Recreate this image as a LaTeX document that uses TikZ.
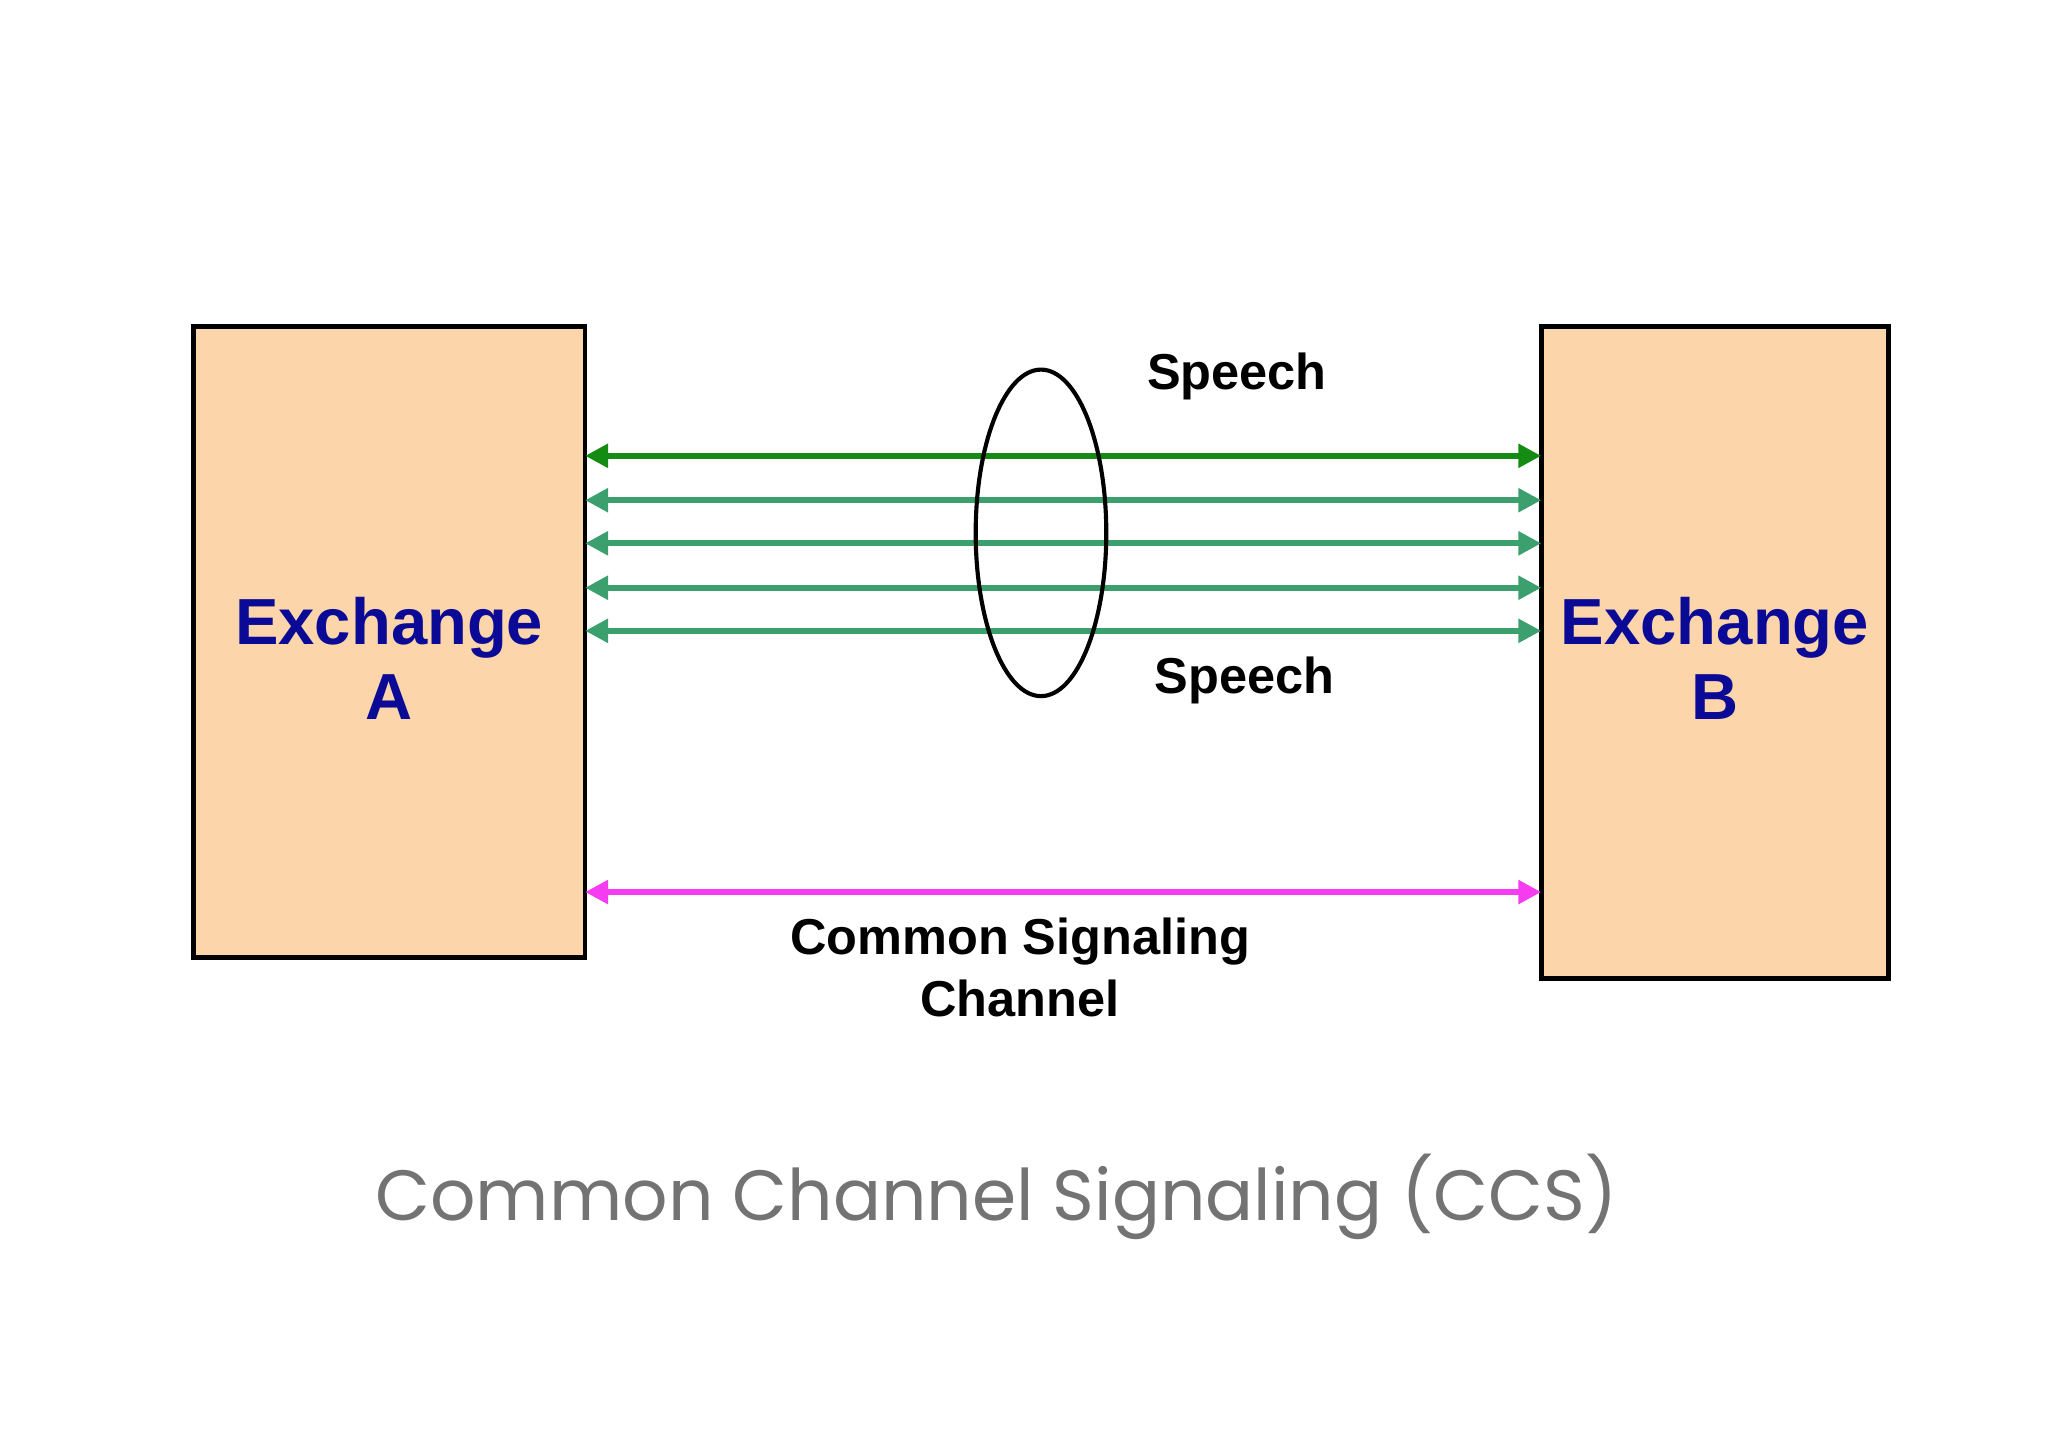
\documentclass[tikz,border=0pt]{standalone}
\usepackage{fontspec}
\setmainfont{Liberation Sans}
\newfontfamily\titlefont{Poppins}
\usetikzlibrary{arrows.meta}
\definecolor{boxfill}{RGB}{253,213,170}
\definecolor{exblue}{RGB}{10,10,150}
\definecolor{dgreen}{RGB}{20,140,20}
\definecolor{tgreen}{RGB}{60,160,110}
\definecolor{pinkc}{RGB}{245,60,240}
\tikzset{
 exbox/.style={draw=black,line width=1pt,fill=boxfill},
 extext/.style={text=exblue,font=\fontsize{14.2}{16.5}\selectfont\bfseries,align=center},
 lbl/.style={font=\fontsize{11}{13.5}\selectfont\bfseries,align=center},
 link/.style={line width=1.3pt,{Triangle[length=5pt,width=5pt]}-{Triangle[length=5pt,width=5pt]}}
}
\begin{document}
\begin{tikzpicture}
\useasboundingbox (0,0) rectangle (15.68,11.09);
\draw[exbox] (1.48,3.76) rectangle (4.48,8.59);
\draw[exbox] (11.80,3.60) rectangle (14.46,8.59);
\node[extext] (ea) at (2.98,6.05) {Exchange\\A};
\node[extext] (eb) at (13.13,6.05) {Exchange\\B};
\foreach \y/\c [count=\i] in {7.60/dgreen,7.26/tgreen,6.93/tgreen,6.59/tgreen,6.26/tgreen,4.26/pinkc}{
 \coordinate (l\i) at (4.48,\y);
 \coordinate (r\i) at (11.80,\y);
 \draw[link,draw=\c,fill=\c] (l\i) -- (r\i);
}
\draw[line width=0.9pt] (7.97,7.01) ellipse (0.50 and 1.25);
\node[lbl] (s1) at (9.47,8.21) {Speech};
\node[lbl] (s2) at (9.53,5.88) {Speech};
\node[lbl] (csc) at (7.81,3.68) {Common Signaling\\Channel};
\node[text=black!55,font=\titlefont\fontsize{15.5}{18}\selectfont] (title) at (7.63,1.93) {Common Channel Signaling (CCS)};
\end{tikzpicture}
\end{document}
